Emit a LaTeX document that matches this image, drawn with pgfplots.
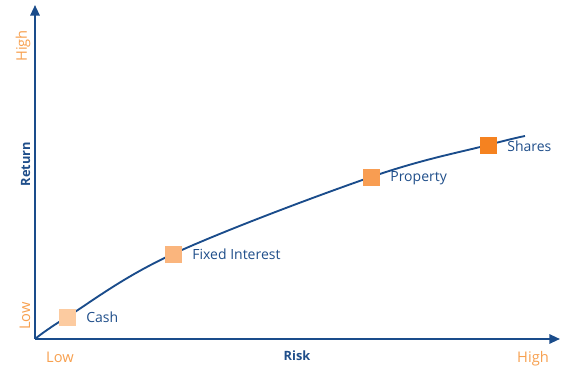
\documentclass[border=0pt]{standalone}
\usepackage{pgfplots}
\pgfplotsset{compat=1.18}
\usepackage{fontspec}
\setmainfont{Open Sans}
\usetikzlibrary{arrows.meta}
\definecolor{dblue}{HTML}{1A4C8B}
\definecolor{tblue}{HTML}{1F4E8A}
\definecolor{orng}{HTML}{F7A04F}
\definecolor{cCash}{HTML}{FCCBA0}
\definecolor{cFI}{HTML}{FAB57D}
\definecolor{cProp}{HTML}{F89D52}
\definecolor{cShares}{HTML}{F58220}
\tikzset{lbl/.style={anchor=west, xshift=11pt, text=tblue, font=\fontsize{10.5}{12}\selectfont}}
\begin{document}
\begin{tikzpicture}
\begin{axis}[
  scale only axis,
  width=393.75pt, height=250.5pt,
  xmin=0, xmax=525, ymin=0, ymax=334,
  axis lines=left,
  axis line style={draw=dblue, line width=1.5pt, -{Triangle[length=8pt,width=7pt]}},
  xtick={25,498}, xticklabels={Low,High},
  ytick={27,297}, yticklabels={Low,High},
  major tick length=0pt,
  tick label style={text=orng, font=\fontsize{11}{12}\selectfont},
  yticklabel style={rotate=90, anchor=south},
  xticklabel style={anchor=north},
  every x tick label/.append style={yshift=-6pt},
  every y tick label/.append style={xshift=-3pt},
  xlabel={\textbf{Risk}}, ylabel={\textbf{Return}},
  label style={text=tblue, font=\fontsize{9.6}{11}\selectfont},
  xlabel style={at={(axis cs:262,0)}, anchor=north, yshift=-5pt},
  ylabel style={at={(axis cs:0,179)}, anchor=south, rotate=0, xshift=-3pt},
  clip=false,
]
\addplot[dblue, line width=1.4pt, smooth, tension=0.6] coordinates {
 (0,0) (32,22) (138,85) (336,162) (453,194) (490,203)};
\addplot[only marks, color=cCash, mark=square*, mark size=6pt,
  nodes near coords={Cash}, every node near coord/.append style={lbl}]
  coordinates {(32,22)};
\addplot[only marks, color=cFI, mark=square*, mark size=6pt,
  nodes near coords={Fixed Interest}, every node near coord/.append style={lbl}]
  coordinates {(138,85)};
\addplot[only marks, color=cProp, mark=square*, mark size=6pt,
  nodes near coords={Property}, every node near coord/.append style={lbl, yshift=-1pt}]
  coordinates {(336,162)};
\addplot[only marks, color=cShares, mark=square*, mark size=6pt,
  nodes near coords={Shares}, every node near coord/.append style={lbl, yshift=-1pt}]
  coordinates {(453,194)};
\end{axis}
\pgfresetboundingbox
\path (-26.25pt,-21pt) rectangle (394.5pt,254.25pt);
\end{tikzpicture}
\end{document}
